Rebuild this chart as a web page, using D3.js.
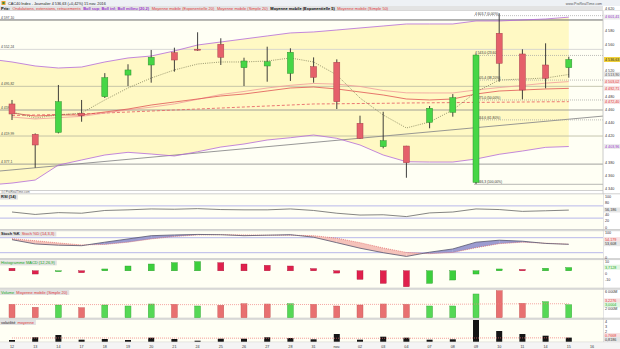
<!DOCTYPE html>
<html>
<head>
<meta charset="utf-8">
<script src="https://cdn.jsdelivr.net/npm/d3@7/dist/d3.min.js"></script>
<style>
html,body{margin:0;padding:0;background:#fff;overflow:hidden;}
svg{display:block;font-family:"Liberation Sans",Arial,sans-serif;}
</style>
</head>
<body>
<svg id="chart" width="620" height="349"></svg>
<script>
// ---------------- DATA ----------------
const dateLabels = ["12","13","14","17","18","19","20","21","24","25","26","27","28","31","nov.","02","03","04","07","08","09","10","11","14","15","16"];
const openP  = [4468.9,4422.6,4425.6,4454.7,4480.0,4513.0,4528.4,4547.2,4552.5,4560.0,4524.3,4526.9,4515.7,4525.8,4532.5,4439.4,4403.7,4404.7,4440.9,4456.2,4349.3,4576.8,4545.2,4528.4,4524.3];
const highP  = [4475.0,4424.0,4497.9,4475.0,4516.0,4529.5,4551.3,4554.8,4578.3,4569.2,4539.5,4556.3,4553.9,4540.0,4537.0,4451.0,4457.0,4405.0,4465.8,4484.0,4545.0,4607.3,4552.4,4561.5,4541.0];
const lowP   = [4444.4,4371.6,4424.0,4441.8,4478.0,4496.3,4501.4,4518.2,4550.0,4528.4,4496.3,4502.9,4504.0,4501.4,4461.2,4416.0,4401.2,4356.3,4431.8,4449.5,4346.7,4502.9,4476.0,4492.8,4509.0];
const closeP = [4453.6,4406.3,4472.4,4451.0,4509.0,4520.8,4540.2,4536.0,4551.0,4540.2,4534.5,4533.4,4547.8,4509.6,4472.4,4416.5,4412.8,4379.2,4462.3,4478.5,4543.6,4531.0,4490.2,4508.1,4536.63];

// Bollinger bands: first value is the session before the first visible candle
const bollUpper = [4537.6,4533.0,4526.9,4523.8,4525.3,4533.0,4539.1,4542.1,4549.8,4558.9,4563.5,4568.1,4572.7,4577.3,4578.8,4581.8,4584.9,4587.9,4591.0,4591.0,4591.0,4595.6,4595.6,4597.1,4598.6,4601.41];
const bollLower = [4345.2,4348.2,4352.8,4375.7,4383.4,4391.0,4395.1,4392.5,4389.5,4396.0,4403.2,4407.8,4413.9,4417.4,4421.5,4416.5,4406.3,4391.0,4380.8,4380.3,4380.3,4384.9,4392.1,4397.1,4402.7,4403.96];

const ema5  = [4456.6,4447.5,4452.1,4455.1,4475.0,4493.3,4508.5,4520.8,4529.9,4533.0,4533.0,4534.5,4539.1,4533.0,4513.2,4478.0,4452.1,4432.3,4441.4,4459.7,4487.2,4505.5,4507.0,4508.5,4513.9];
const ema20 = [4455.1,4450.5,4452.1,4452.1,4456.6,4461.2,4467.3,4471.9,4476.5,4481.1,4484.1,4488.7,4493.3,4494.8,4491.8,4487.2,4482.6,4476.5,4475.0,4476.5,4484.1,4488.7,4490.2,4491.8,4492.71];
const sma20 = [4449.0,4446.0,4448.0,4450.0,4455.0,4460.0,4464.0,4469.0,4476.0,4483.4,4488.0,4493.3,4497.4,4500.2,4499.2,4495.6,4489.5,4485.9,4485.7,4485.7,4490.3,4493.9,4497.1,4500.7,4503.02];
const sma50 = [4451.3,4452.1,4452.8,4453.6,4455.1,4456.6,4458.1,4459.7,4461.2,4462.7,4464.3,4465.8,4467.3,4468.9,4469.2,4469.6,4469.9,4470.4,4470.7,4471.0,4471.3,4471.6,4471.9,4472.2,4472.4];

const levelPrices = [4597.10,4552.24,4495.82,4459.69,4419.99,4377.1];
const levelLabels = ["4 597,10","4 552,24","4 495,82","4 459,69","4 419,99","4 377,1"];
const fibHigh = 4603.7, fibLow = 4346.3, fibStartIndex = 20;
const fibPercents = [0, 23.6, 38.2, 50, 61.8, 100];
const trendIdx = [-0.52, 25.5];
const trendPrice = [4366.6, 4450.5];
const priceTicks = [4340,4360,4380,4400,4420,4440,4460,4480,4500,4520,4540,4560,4580,4600,4620];

const rsi    = [50,42,48,46,55,57,60,59,61,58,57,57,60,55,46,40,41,35,47,50,60,58,52,54,56.186];
const stochK = [72,55,50,48,62,75,88,91,93,92,88,90,92,82,60,38,20,5,22,35,62,70,66,57,53.608];
const stochD = [76,68,59,51,53,62,75,85,91,92,91,90,90,88,78,60,39,21,16,21,40,56,62,58,54.179];
const macdHist = [2.9,-3.7,-1.0,-2.2,2.1,5.5,7.8,9.3,10.5,9.3,7.8,6.3,5.5,2.5,-2.6,-9.8,-14.4,-18.3,-14.4,-10.6,-3.7,2.1,1.5,2.9,3.7128];
const volume   = [3095,2400,2933,2309,2933,2702,3164,3095,2702,2864,3233,3164,3233,3095,2702,2933,3164,3095,2702,2702,5473,6236,3326,3695,3000.4];
const volumeMA = [3060,3050,3040,3030,3030,3020,3020,3020,3010,3010,3020,3030,3040,3050,3060,3070,3080,3090,3090,3100,3150,3190,3200,3215,3227.6];
const volat    = [0.34,0.88,1.34,0.40,0.54,0.34,0.80,0.54,0.20,0.60,0.60,0.88,0.74,0.48,1.54,0.40,1.00,0.80,0.40,0.48,4.34,2.14,1.54,1.20,0.8186];
const volatMA  = [0.74,0.74,0.75,0.75,0.74,0.73,0.73,0.72,0.71,0.71,0.70,0.70,0.70,0.69,0.70,0.69,0.69,0.70,0.69,0.69,0.74,0.76,0.76,0.77,0.7668];

const titleText = "CAC40 Index - Journalier   4 536,63 (+0,42%)   15 nov. 2016";
const legendTexts = ["Prix:","Ondulations, extensions, retracements","Boll sup; Boll inf; Boll milieu (20,2)","Moyenne mobile (Exponentielle 20)","Moyenne mobile (Simple 20)","Moyenne mobile (Exponentielle 5)","Moyenne mobile (Simple 50)"];

// ---------------- RENDER ----------------
const svg = d3.select("#chart");
const PR = 603;               // right edge of plotting area
const FS = 3.7;               // small font size
const fr = d3.formatLocale({decimal:",", thousands:" ", grouping:[3], currency:["",""]});
const f0 = fr.format(",.0f"), f2 = fr.format(",.2f"), f1 = fr.format(",.1f"), f3 = fr.format(",.3f"), f4 = fr.format(",.4f");
const idx = d3.range(closeP.length);
const x = d3.scaleLinear().domain([0, 25]).range([12, 592]);

// header
svg.append("rect").attr("x",0).attr("y",0).attr("width",620).attr("height",6).attr("fill","#eef1f5");
svg.append("rect").attr("x",0).attr("y",6).attr("width",PR).attr("height",5).attr("fill","#e3e3e3");
svg.append("rect").attr("x",1.5).attr("y",1).attr("width",4).attr("height",4).attr("fill","#e8a030");
svg.append("rect").attr("x",2.5).attr("y",2).attr("width",2).attr("height",2).attr("fill","#3a8a3a");
svg.append("text").attr("x",8).attr("y",4.6).attr("font-size",3.8).attr("fill","#222").text(titleText);
svg.append("text").attr("x",PR-1).attr("y",4.6).attr("font-size",3.5).attr("fill","#555").attr("text-anchor","end").text("www.ProRealTime.com");

const legendColors = ["#000","#e03838","#9933cc","#e03838","#e03838","#000","#e03838"];
const legendBold = [true,false,true,false,false,true,false];
let lx = 1;
legendTexts.forEach((t,i)=>{
  const tx = svg.append("text").attr("x",lx).attr("y",9.9).attr("font-size",4).attr("fill",legendColors[i])
    .attr("font-weight",legendBold[i]?"bold":"normal").text(t);
  lx += tx.node().getComputedTextLength() + 2.5;
});

// panel helper
function panel(top, bottom, bg){
  svg.append("rect").attr("x",0).attr("y",top).attr("width",PR).attr("height",bottom-top).attr("fill",bg);
  svg.append("line").attr("x1",0).attr("x2",620).attr("y1",top).attr("y2",top).attr("stroke","#c4c4c4").attr("stroke-width",0.8);
  svg.append("line").attr("x1",0).attr("x2",620).attr("y1",bottom).attr("y2",bottom).attr("stroke","#c4c4c4").attr("stroke-width",0.8);
  const id = "clip"+Math.round(top);
  svg.append("clipPath").attr("id",id).append("rect").attr("x",0).attr("y",top).attr("width",PR).attr("height",bottom-top);
  return svg.append("g").attr("clip-path","url(#"+id+")");
}
function rlabel(y, text, fg, bg){
  if (bg) svg.append("rect").attr("x",604).attr("y",y-2.6).attr("width",16).attr("height",5).attr("fill",bg);
  svg.append("text").attr("x",605).attr("y",y+1.3).attr("font-size",FS).attr("fill",fg).text(text);
}
function header(top, parts){
  let hx = 1;
  const g = svg.append("g");
  const bgr = g.append("rect").attr("x",0).attr("y",top+0.8).attr("height",5).attr("fill","#e2e2e2");
  parts.forEach(([t,c,b])=>{
    const tx = g.append("text").attr("x",hx).attr("y",top+4.6).attr("font-size",4).attr("fill",c)
      .attr("font-weight",b?"bold":"normal").text(t);
    hx += tx.node().getComputedTextLength()+2;
  });
  bgr.attr("width",hx);
}

// ---------- main price panel ----------
const MT = 11, MB = 190.5;
const y = d3.scaleLinear().domain([4337.6, 4610.8]).range([190, 11]);
const gm = panel(MT, MB, "#fffff4");
gm.append("rect").attr("x",0).attr("y",MT).attr("width",PR).attr("height",y(levelPrices[0])-MT).attr("fill","#fff");

const bandIdx = d3.range(-1, closeP.length);
gm.append("path").datum(bandIdx)
  .attr("d", d3.area().x(i=>x(i)).y0(i=>y(bollLower[i+1])).y1(i=>y(bollUpper[i+1])))
  .attr("fill","#fff9c4");

// horizontal levels
const levelColors = ["#6a6a6a","#cfcfcf","#b8b8a0","#8a8a8a","#b8b8a0","#8a8a8a"];
levelPrices.forEach((p,k)=>{
  gm.append("line").attr("x1",0).attr("x2",PR).attr("y1",y(p)).attr("y2",y(p))
    .attr("stroke",levelColors[k]).attr("stroke-width",k===0?1:0.8);
  gm.append("text").attr("x",1).attr("y",y(p)-1.2).attr("font-size",3.4).attr("fill","#444").text(levelLabels[k]);
});
// trend line
gm.append("line").attr("x1",x(trendIdx[0])).attr("x2",x(trendIdx[1]))
  .attr("y1",y(trendPrice[0])).attr("y2",y(trendPrice[1])).attr("stroke","#8c8c8c").attr("stroke-width",0.9);

// bollinger lines
[bollUpper, bollLower].forEach(arr=>{
  gm.append("path").datum(bandIdx).attr("d", d3.line().x(i=>x(i)).y(i=>y(arr[i+1])))
    .attr("fill","none").attr("stroke","#b46ad8").attr("stroke-width",0.8);
});
// moving averages
const ln = arr => d3.line().x(i=>x(i)).y(i=>y(arr[i]))(idx);
gm.append("path").attr("d",ln(sma50)).attr("fill","none").attr("stroke","#e86a6a").attr("stroke-width",0.9).attr("stroke-dasharray","3,2");
gm.append("path").attr("d",ln(sma20)).attr("fill","none").attr("stroke","#f09a9a").attr("stroke-width",0.8);
gm.append("path").attr("d",ln(ema20)).attr("fill","none").attr("stroke","#e05454").attr("stroke-width",0.8);
gm.append("path").attr("d",ln(ema5)).attr("fill","none").attr("stroke","#80805a").attr("stroke-width",0.8).attr("stroke-dasharray","1,1.2");

// fibonacci
const fx0 = x(fibStartIndex)-2;
fibPercents.forEach(pc=>{
  const p = fibHigh - (fibHigh-fibLow)*pc/100;
  gm.append("line").attr("x1",fx0).attr("x2",PR).attr("y1",y(p)).attr("y2",y(p))
    .attr("stroke", pc===100?"#9a9a9a":"#a0a0a0").attr("stroke-width",0.7).attr("stroke-dasharray",pc===100?null:"1,1");
  gm.append("text").attr("x",fx0+1).attr("y",y(p)-1).attr("font-size",3.3).attr("fill","#333")
    .text(f1(p)+" ("+f2(pc)+"%)");
});

// candles
const cw = 6;
idx.forEach(i=>{
  const up = closeP[i] >= openP[i];
  gm.append("line").attr("x1",x(i)).attr("x2",x(i)).attr("y1",y(highP[i])).attr("y2",y(lowP[i]))
    .attr("stroke","#2a2a2a").attr("stroke-width",0.9);
  const top = y(Math.max(openP[i],closeP[i])), bot = y(Math.min(openP[i],closeP[i]));
  gm.append("rect").attr("x",x(i)-cw/2).attr("y",top).attr("width",cw).attr("height",Math.max(1,bot-top))
    .attr("fill", up?"#46d646":"#e5606a").attr("stroke", up?"#2f8f2f":"#a8404c").attr("stroke-width",0.5);
});

// right axis for price
svg.append("rect").attr("x",PR).attr("y",11).attr("width",620-PR).attr("height",338).attr("fill","#fff");
svg.append("line").attr("x1",PR).attr("x2",PR).attr("y1",11).attr("y2",342).attr("stroke","#bdbdbd").attr("stroke-width",0.8);
const last = closeP.length-1;
const hl = [
  [bollUpper[bollUpper.length-1], "#9933cc", "#ececec"],
  [closeP[last], "#222", "#f2d23a"],
  [ema5[last], "#555", "#e6e6e6"],
  [sma20[last], "#e03838", "#f8e2e2"],
  [ema20[last], "#e03838", "#f8e2e2"],
  [sma50[last], "#e03838", "#f8e2e2"],
  [bollLower[bollLower.length-1], "#9933cc", "#ececec"]
];
const hlY = hl.map(h=>y(h[0]));
priceTicks.forEach(t=>{
  let ty = Math.max(8.3, y(t));
  if (hlY.some(v=>Math.abs(v-y(t))<3.9)) return;
  rlabel(ty, f0(t), "#333", null);
});
hl.forEach((h,k)=> rlabel(hlY[k], f2(h[0]), h[1], h[2]));
svg.append("text").attr("x",1.5).attr("y",192.8).attr("font-size",3).attr("fill","#666").text("(c) ProRealTime.com");

// ---------- RSI ----------
const yR = d3.scaleLinear().domain([0,100]).range([227.3,196.7]);
const gr = panel(193.8, 229.5, "#fffff4");
[70,30].forEach(v=>gr.append("line").attr("x1",0).attr("x2",PR).attr("y1",yR(v)).attr("y2",yR(v)).attr("stroke","#b8b8ea").attr("stroke-width",1));
gr.append("path").attr("d",d3.line().x(i=>x(i)).y(i=>yR(rsi[i]))(idx)).attr("fill","none").attr("stroke","#666").attr("stroke-width",0.8);
header(193.8, [["RSI (14)","#222",true]]);
[100,80,40,20,0].forEach(v=>rlabel(yR(v), f0(v), "#333", null));
rlabel(yR(rsi[last]), f3(rsi[last]), "#333", "#e6e6e6");

// ---------- Stochastic ----------
const yS = d3.scaleLinear().domain([0,100]).range([257.7,232.7]);
const gs = panel(230.7, 258.6, "#fffff4");
[80,20].forEach(v=>gs.append("line").attr("x1",0).attr("x2",PR).attr("y1",yS(v)).attr("y2",yS(v)).attr("stroke","#b8b8ea").attr("stroke-width",1));
function poly(g, pts, col){ g.append("path").attr("d","M"+pts.map(p=>p.join(",")).join("L")+"Z").attr("fill",col); }
for (let i=0;i<idx.length-1;i++){
  const x0=x(i), x1=x(i+1), d0=stochK[i]-stochD[i], d1=stochK[i+1]-stochD[i+1];
  const cu="#9c9cd0", cd="#f5c2ba";
  if (d0*d1>=0){
    poly(gs, [[x0,yS(stochK[i])],[x1,yS(stochK[i+1])],[x1,yS(stochD[i+1])],[x0,yS(stochD[i])]], (d0+d1)>=0?cu:cd);
  } else {
    const t=d0/(d0-d1), xc=x0+t*(x1-x0), vc=stochK[i]+t*(stochK[i+1]-stochK[i]);
    poly(gs, [[x0,yS(stochK[i])],[xc,yS(vc)],[x0,yS(stochD[i])]], d0>0?cu:cd);
    poly(gs, [[xc,yS(vc)],[x1,yS(stochK[i+1])],[x1,yS(stochD[i+1])]], d1>0?cu:cd);
  }
}
gs.append("path").attr("d",d3.line().x(i=>x(i)).y(i=>yS(stochD[i]))(idx)).attr("fill","none").attr("stroke","#e06060").attr("stroke-width",0.7).attr("stroke-dasharray","1,1");
gs.append("path").attr("d",d3.line().x(i=>x(i)).y(i=>yS(stochK[i]))(idx)).attr("fill","none").attr("stroke","#56566e").attr("stroke-width",0.8);
header(230.7, [["Stoch %K","#222",true],["Stoch %D (14,3,3)","#e03838",false]]);
rlabel(yS(100), "100", "#333", null);
rlabel(yS(0), "0", "#333", null);
rlabel(yS(stochD[last])-4.5, f3(stochD[last]), "#e03838", "#f8e2e2");
rlabel(yS(stochK[last])-0.5, f3(stochK[last]), "#333", "#e6e6e6");

// ---------- MACD histogram ----------
const yM = d3.scaleLinear().domain([0,10]).range([270.8,262.1]);
const gmc = panel(259.6, 288.2, "#fffff4");
idx.forEach(i=>{
  const v = macdHist[i], prev = i>0 ? macdHist[i-1] : Infinity;
  const rising = v > prev;
  gmc.append("rect").attr("x",x(i)-3).attr("width",6)
    .attr("y",Math.min(yM(v),yM(0))).attr("height",Math.abs(yM(v)-yM(0)))
    .attr("fill", rising?"#3ccf3c":"#e0204c").attr("stroke", rising?"#2b9a2b":"#a8183a").attr("stroke-width",0.4);
});
header(259.6, [["Histogramme MACD (12,26,9)","#22aa22",false]]);
rlabel(yM(10), "10", "#333", null);
rlabel(yM(macdHist[last])-0.3, f4(macdHist[last]), "#22aa22", "#e2f6e2");
rlabel(yM(0)+2.5, "0", "#333", null);
rlabel(yM(-10), "-10", "#333", null);

// ---------- Volume ----------
const yV = d3.scaleLinear().domain([0,6000]).range([317.7,291.7]);
const gv = panel(289.2, 318.2, "#fffff4");
idx.forEach(i=>{
  const up = i>0 ? closeP[i] >= closeP[i-1] : false;
  gv.append("rect").attr("x",x(i)-3).attr("width",6).attr("y",yV(volume[i])).attr("height",yV(0)-yV(volume[i]))
    .attr("fill", up?"#55d855":"#e87070").attr("stroke", up?"#3aa63a":"#c45454").attr("stroke-width",0.4);
});
gv.append("path").attr("d",d3.line().x(i=>x(i)).y(i=>yV(volumeMA[i]))(idx)).attr("fill","none").attr("stroke","#f08080").attr("stroke-width",0.7).attr("stroke-dasharray","1,1");
header(289.2, [["Volume","#22aa22",false],["Moyenne mobile (Simple 20)","#e03838",false]]);
rlabel(yV(6000), "6 000M", "#333", null);
rlabel(yV(volumeMA[last])-2.7, f4(volumeMA[last]/1000), "#e03838", "#f8e2e2");
rlabel(yV(volume[last])+0.3, f4(volume[last]/1000), "#22aa22", "#e2f6e2");
rlabel(yV(2000), "2 000M", "#333", null);

// ---------- Volatility ----------
const yVo = d3.scaleLinear().domain([0,4]).range([341.7,321.7]);
const gvo = panel(319.2, 342.2, "#fffff4");
idx.forEach(i=>{
  gvo.append("rect").attr("x",x(i)-3).attr("width",6).attr("y",yVo(volat[i])).attr("height",yVo(0)-yVo(volat[i]))
    .attr("fill","#151515");
});
gvo.append("path").attr("d",d3.line().x(i=>x(i)).y(i=>yVo(volatMA[i]))(idx)).attr("fill","none").attr("stroke","#f07070").attr("stroke-width",0.7).attr("stroke-dasharray","1,1");
header(319.2, [["volatilité","#222",false],["moyenne","#e03838",false]]);
[4,3,2].forEach(v=>rlabel(yVo(v), f0(v), "#333", null));
rlabel(yVo(volatMA[last])-2.3, f4(volatMA[last]), "#e03838", "#f8e2e2");
rlabel(yVo(volat[last])+1.9, f4(volat[last]), "#333", "#e6e6e6");

// ---------- x axis ----------
svg.append("rect").attr("x",0).attr("y",342.3).attr("width",620).attr("height",6.7).attr("fill","#f4f4f4");
dateLabels.forEach((d,i)=>{
  svg.append("text").attr("x",x(i)).attr("y",347.6).attr("font-size",FS).attr("fill","#333").attr("text-anchor","middle").text(d);
});
</script>
</body>
</html>
